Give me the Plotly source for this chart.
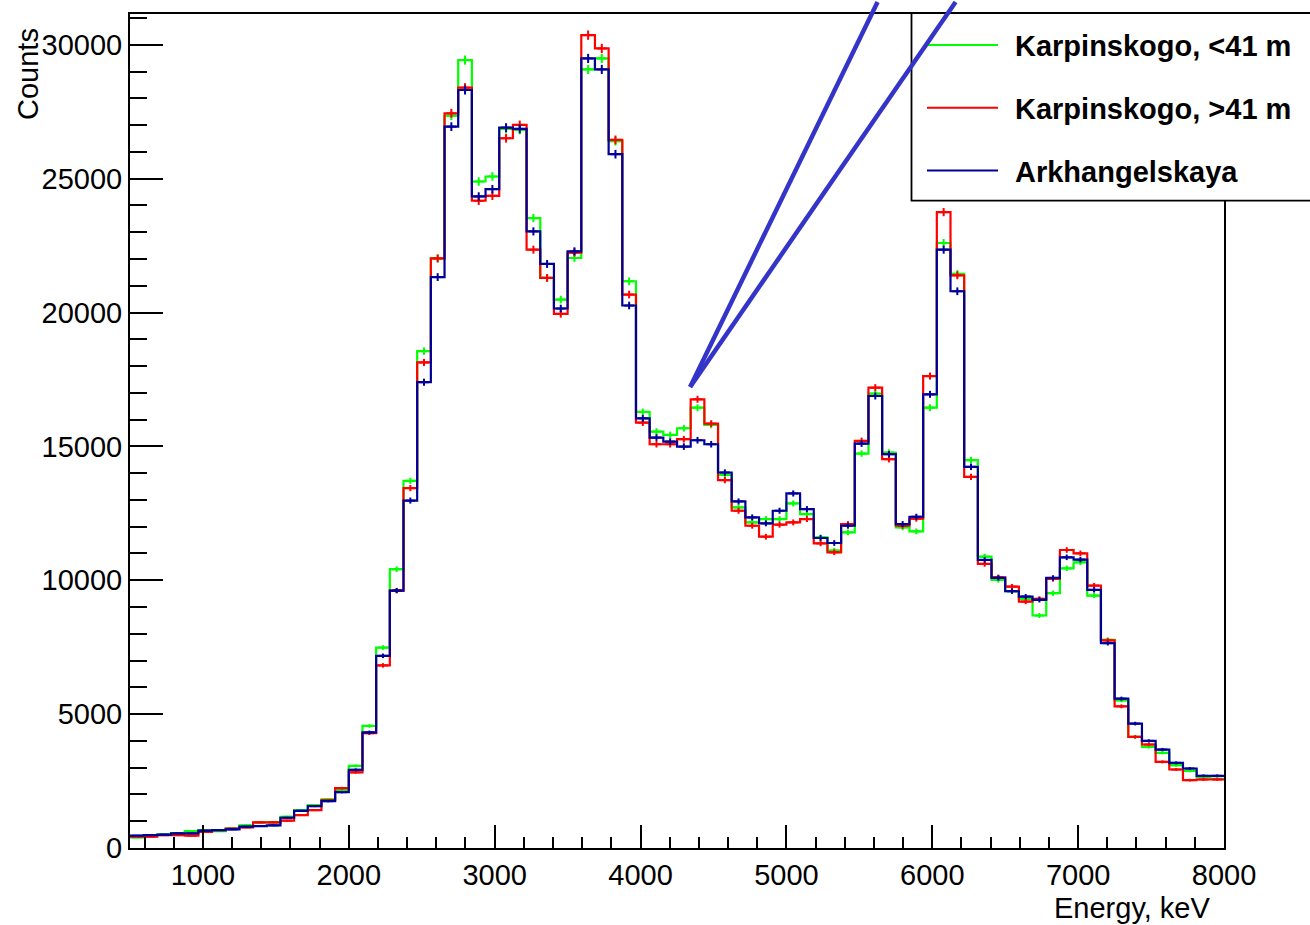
import numpy as np
import plotly.graph_objects as go

# ---------------- data ----------------
E_LO, E_HI, N_BINS = 500.0, 8000.0, 80          # histogram binning (keV)
Y_MAX = 31150.0

series_names = ["Karpinskogo, <41 m", "Karpinskogo, >41 m", "Arkhangelskaya"]
series_colors = ["#00ff00", "#ff0000", "#000099"]

karp_lt41 = [398, 480, 500, 560, 633, 670, 633, 720, 845, 957,
             957, 1168, 1416, 1602, 1814, 2170, 3067, 4558, 7487, 10413,
             13715, 18560, 22020, 27350, 29429, 24894, 25081, 26857, 26820, 23528,
             21292, 20485, 22037, 29080, 29490, 26400, 21168, 16286, 15553, 15429,
             15677, 16446, 15802, 13938, 12720, 12161, 12287, 12287, 12869, 12471,
             11603, 11106, 11788, 14732, 16969, 14770, 11975, 11826, 16446, 22596,
             21441, 14484, 10882, 10013, 9590, 9305, 8683, 9516, 10447, 10670,
             9429, 7777, 5516, 4148, 3776, 3552, 3093, 2882, 2634, 2584]

karp_gt41 = [422, 420, 480, 480, 460, 600, 670, 720, 770, 957,
             960, 1020, 1230, 1416, 1790, 2236, 2828, 4290, 6820, 9615,
             13443, 18135, 22020, 27441, 28398, 24174, 24360, 26509, 27006, 22348,
             21292, 19950, 22240, 30360, 29863, 26448, 20671, 15888, 15081, 15081,
             15268, 16759, 15851, 13740, 12597, 12037, 11627, 12075, 12161, 12287,
             11379, 11044, 12100, 15205, 17193, 14522, 12037, 12300, 17627, 23751,
             21391, 13863, 10609, 10112, 9764, 9205, 9305, 10050, 11131, 11006,
             9801, 7752, 5292, 4148, 3865, 3217, 2932, 2534, 2559, 2559]

arkh = [459, 480, 500, 547, 547, 646, 670, 695, 795, 820,
        845, 1130, 1390, 1565, 1750, 2087, 2921, 4319, 7178, 9615,
        12977, 17397, 21324, 26944, 28311, 24335, 24609, 26907, 26857, 23031,
        21814, 20150, 22286, 29490, 29080, 25913, 20262, 16050, 15329, 15180,
        14993, 15230, 15081, 14025, 12944, 12348, 12124, 12597, 13242, 12658,
        11578, 11392, 12037, 15105, 16882, 14708, 12100, 12373, 16944, 22348,
        20795, 14236, 10758, 10087, 9590, 9392, 9267, 10087, 10857, 10770,
        9640, 7652, 5578, 4646, 4000, 3678, 3180, 2969, 2696, 2696]

series_values = [karp_lt41, karp_gt41, arkh]

x_tick_vals = [1000, 2000, 3000, 4000, 5000, 6000, 7000, 8000]
y_tick_vals = [0, 5000, 10000, 15000, 20000, 25000, 30000]

# pointer wedge (data coordinates: tip and the two far ends)
wedge_tip = (4340.0, 17220.0)
wedge_ends = [(5625.0, 31600.0), (6160.0, 31600.0)]

# ---------------- figure ----------------
FONT = "Liberation Sans, Arial, Helvetica, sans-serif"
edges = np.linspace(E_LO, E_HI, N_BINS + 1)
centers = 0.5 * (edges[:-1] + edges[1:])

fig = go.Figure()
for name, col, vals in zip(series_names, series_colors, series_values):
    v = np.asarray(vals, dtype=float)
    fig.add_trace(go.Scatter(
        x=edges, y=np.append(v, v[-1]), mode="lines", line_shape="hv",
        line=dict(color=col, width=2.2), name=name, showlegend=False,
        hoverinfo="skip"))
    fig.add_trace(go.Scatter(
        x=centers, y=v, mode="markers",
        marker=dict(symbol="line-ew", size=7, color=col,
                    line=dict(color=col, width=2)),
        error_y=dict(type="data", array=np.sqrt(v), visible=True,
                     color=col, thickness=2, width=0),
        showlegend=False, name=name))

L, R, T, B = 130, 86, 12, 77
W, H = 1310, 925
PW, PH = W - L - R, H - T - B


def px2paper(px, py):
    return (px - L) / PW, (H - B - py) / PH


def data2paper(xv, yv):
    return (xv - E_LO) / (E_HI - E_LO), yv / Y_MAX


shapes = []
annotations = []

# legend box (extends past the right edge as in the reference)
lx0, ly0 = px2paper(911.5, 199)
lx1, ly1 = px2paper(1340, 11)
shapes.append(dict(type="rect", xref="paper", yref="paper", x0=lx0, y0=ly0,
                   x1=lx1, y1=ly1, line=dict(color="black", width=1.8),
                   fillcolor="white", layer="above"))
leg_y = [43, 106, 169]
for name, col, yy in zip(series_names, series_colors, leg_y):
    a0, b0 = px2paper(927, yy)
    a1, _ = px2paper(998, yy)
    shapes.append(dict(type="line", xref="paper", yref="paper", x0=a0, y0=b0,
                       x1=a1, y1=b0, line=dict(color=col, width=2),
                       layer="above"))
    tx, ty = px2paper(1013, yy + 1)
    annotations.append(dict(text="<b>" + name + "</b>", xref="paper",
                            yref="paper", x=tx, y=ty, xanchor="left",
                            yanchor="middle", showarrow=False,
                            font=dict(family=FONT, size=29, color="black")))

# pointer wedge drawn over the legend
tx0, ty0 = data2paper(*wedge_tip)
for ex, ey in wedge_ends:
    px_, py_ = data2paper(ex, ey)
    shapes.append(dict(type="line", xref="paper", yref="paper", x0=tx0,
                       y0=ty0, x1=px_, y1=py_,
                       line=dict(color="#3434c8", width=4.5), layer="above"))

# axis titles
ax_, ay_ = px2paper(1212, 908)
annotations.append(dict(text="Energy, keV", xref="paper", yref="paper",
                        x=ax_, y=ay_, xanchor="right", yanchor="middle",
                        showarrow=False,
                        font=dict(family=FONT, size=29, color="black")))
cx_, cy_ = px2paper(28, 24)
annotations.append(dict(text="Counts", xref="paper", yref="paper", x=cx_,
                        y=cy_, xanchor="center", yanchor="top", textangle=-90,
                        showarrow=False,
                        font=dict(family=FONT, size=29, color="black")))

fig.update_layout(
    width=W, height=H, margin=dict(l=L, r=R, t=T, b=B, pad=0),
    paper_bgcolor="white", plot_bgcolor="white",
    font=dict(family=FONT, size=29, color="black"),
    shapes=shapes, annotations=annotations, showlegend=False,
    xaxis=dict(range=[E_LO, E_HI], tickmode="array", tickvals=x_tick_vals,
               ticktext=[str(v) for v in x_tick_vals],
               ticks="inside", ticklen=23, tickwidth=2, tickcolor="black",
               minor=dict(dtick=200, tick0=0, ticks="inside", ticklen=11,
                          tickwidth=1.5, tickcolor="black", showgrid=False),
               showline=True, linecolor="black", linewidth=2, mirror=True,
               showgrid=False, zeroline=False,
               tickfont=dict(family=FONT, size=29, color="black")),
    yaxis=dict(range=[0, Y_MAX], tickmode="array", tickvals=y_tick_vals,
               ticktext=[str(v) for v in y_tick_vals],
               ticks="inside", ticklen=33, tickwidth=2, tickcolor="black",
               minor=dict(dtick=1000, tick0=0, ticks="inside", ticklen=17,
                          tickwidth=1.5, tickcolor="black", showgrid=False),
               showline=True, linecolor="black", linewidth=2, mirror=True,
               showgrid=False, zeroline=False,
               tickfont=dict(family=FONT, size=29, color="black")),
)

fig.write_html("out.html")
